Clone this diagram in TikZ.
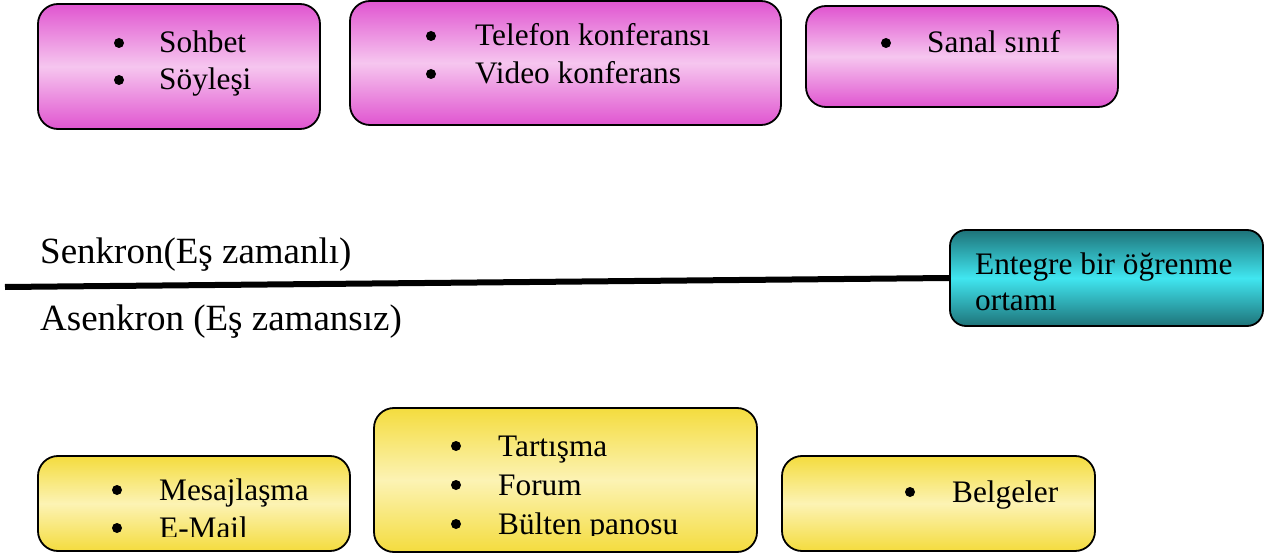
\documentclass[tikz,border=0pt]{standalone}
\usepackage{fontspec}
\setmainfont{Liberation Serif}
\definecolor{pinkdark}{HTML}{E055D0}
\definecolor{pinklight}{HTML}{F6C6EF}
\definecolor{golddark}{HTML}{F4DC3E}
\definecolor{goldlight}{HTML}{FCF3B4}
\definecolor{tealdark}{HTML}{1E7379}
\definecolor{teallight}{HTML}{40E6F0}
\tikzset{
  card/.style={draw=black, line width=1.8pt, rounded corners=20pt, inner sep=0pt},
  pinkcard/.style={card, top color=pinkdark, bottom color=pinkdark, middle color=pinklight},
  goldcard/.style={card, top color=golddark, bottom color=golddark, middle color=goldlight},
  tealcard/.style={card, rounded corners=16pt, top color=tealdark, bottom color=tealdark, middle color=teallight},
  item/.style={anchor=base west, inner sep=0pt, font=\fontsize{31.3}{37}\selectfont},
  dot/.style={circle, fill=black, inner sep=0pt, minimum size=10pt, yshift=10pt},
  side/.style={anchor=base west, inner sep=0pt, font=\fontsize{37}{44}\selectfont},
}
\begin{document}
\begin{tikzpicture}[x=1pt, y=-1pt]
\useasboundingbox (0,0) rectangle (1272,556);

% synchronous tools
\node[pinkcard, minimum width=282pt, minimum height=125pt] (s1) at (179,66.5) {};
\node[dot] (s1d1) at (119,53) {};
\node[item] (s1t1) at (159,53) {Sohbet};
\node[dot] (s1d2) at (119,90) {};
\node[item] (s1t2) at (159,90) {Söyleşi};

\node[pinkcard, minimum width=431pt, minimum height=124pt] (s2) at (565.5,63) {};
\node[dot] (s2d1) at (431,46) {};
\node[item] (s2t1) at (475,46) {Telefon konferansı};
\node[dot] (s2d2) at (431,84) {};
\node[item] (s2t2) at (475,84) {Video konferans};

\node[pinkcard, minimum width=312pt, minimum height=101pt] (s3) at (962,56.5) {};
\node[dot] (s3d1) at (886,53) {};
\node[item] (s3t1) at (927,53) {Sanal sınıf};

% dividing line and the integrated environment
\node[tealcard, minimum width=313pt, minimum height=96pt] (env) at (1106.5,278) {};
\node[item] (envt1) at (975,274) {Entegre bir öğrenme};
\node[item] (envt2) at (975,310) {ortamı};
\coordinate (lstart) at (5,287);
\draw[line width=6pt] (lstart) -- (env.west);
\node[side] (sync) at (40,263) {Senkron(Eş zamanlı)};
\node[side] (async) at (40,330) {Asenkron (Eş zamansız)};

% asynchronous tools
\node[goldcard, minimum width=312pt, minimum height=95pt] (a1) at (194,503.5) {};
\begin{scope}
  \clip (38,456) rectangle (350,536);
  \node[dot] (a1d1) at (117,500) {};
  \node[item] (a1t1) at (159,500) {Mesajlaşma};
  \node[dot] (a1d2) at (117,538) {};
  \node[item] (a1t2) at (159,538) {E-Mail};
\end{scope}

\node[goldcard, minimum width=383pt, minimum height=144pt] (a2) at (565.5,480) {};
\begin{scope}
  \clip (374,408) rectangle (757,535);
  \node[dot] (a2d1) at (456,456) {};
  \node[item] (a2t1) at (498,456) {Tartışma};
  \node[dot] (a2d2) at (456,495) {};
  \node[item] (a2t2) at (498,495) {Forum};
  \node[dot] (a2d3) at (456,534) {};
  \node[item] (a2t3) at (498,534) {Bülten panosu};
\end{scope}

\node[goldcard, minimum width=313pt, minimum height=95pt] (a3) at (938.5,503.5) {};
\node[dot] (a3d1) at (910,502) {};
\node[item] (a3t1) at (952,502) {Belgeler};
\end{tikzpicture}
\end{document}
